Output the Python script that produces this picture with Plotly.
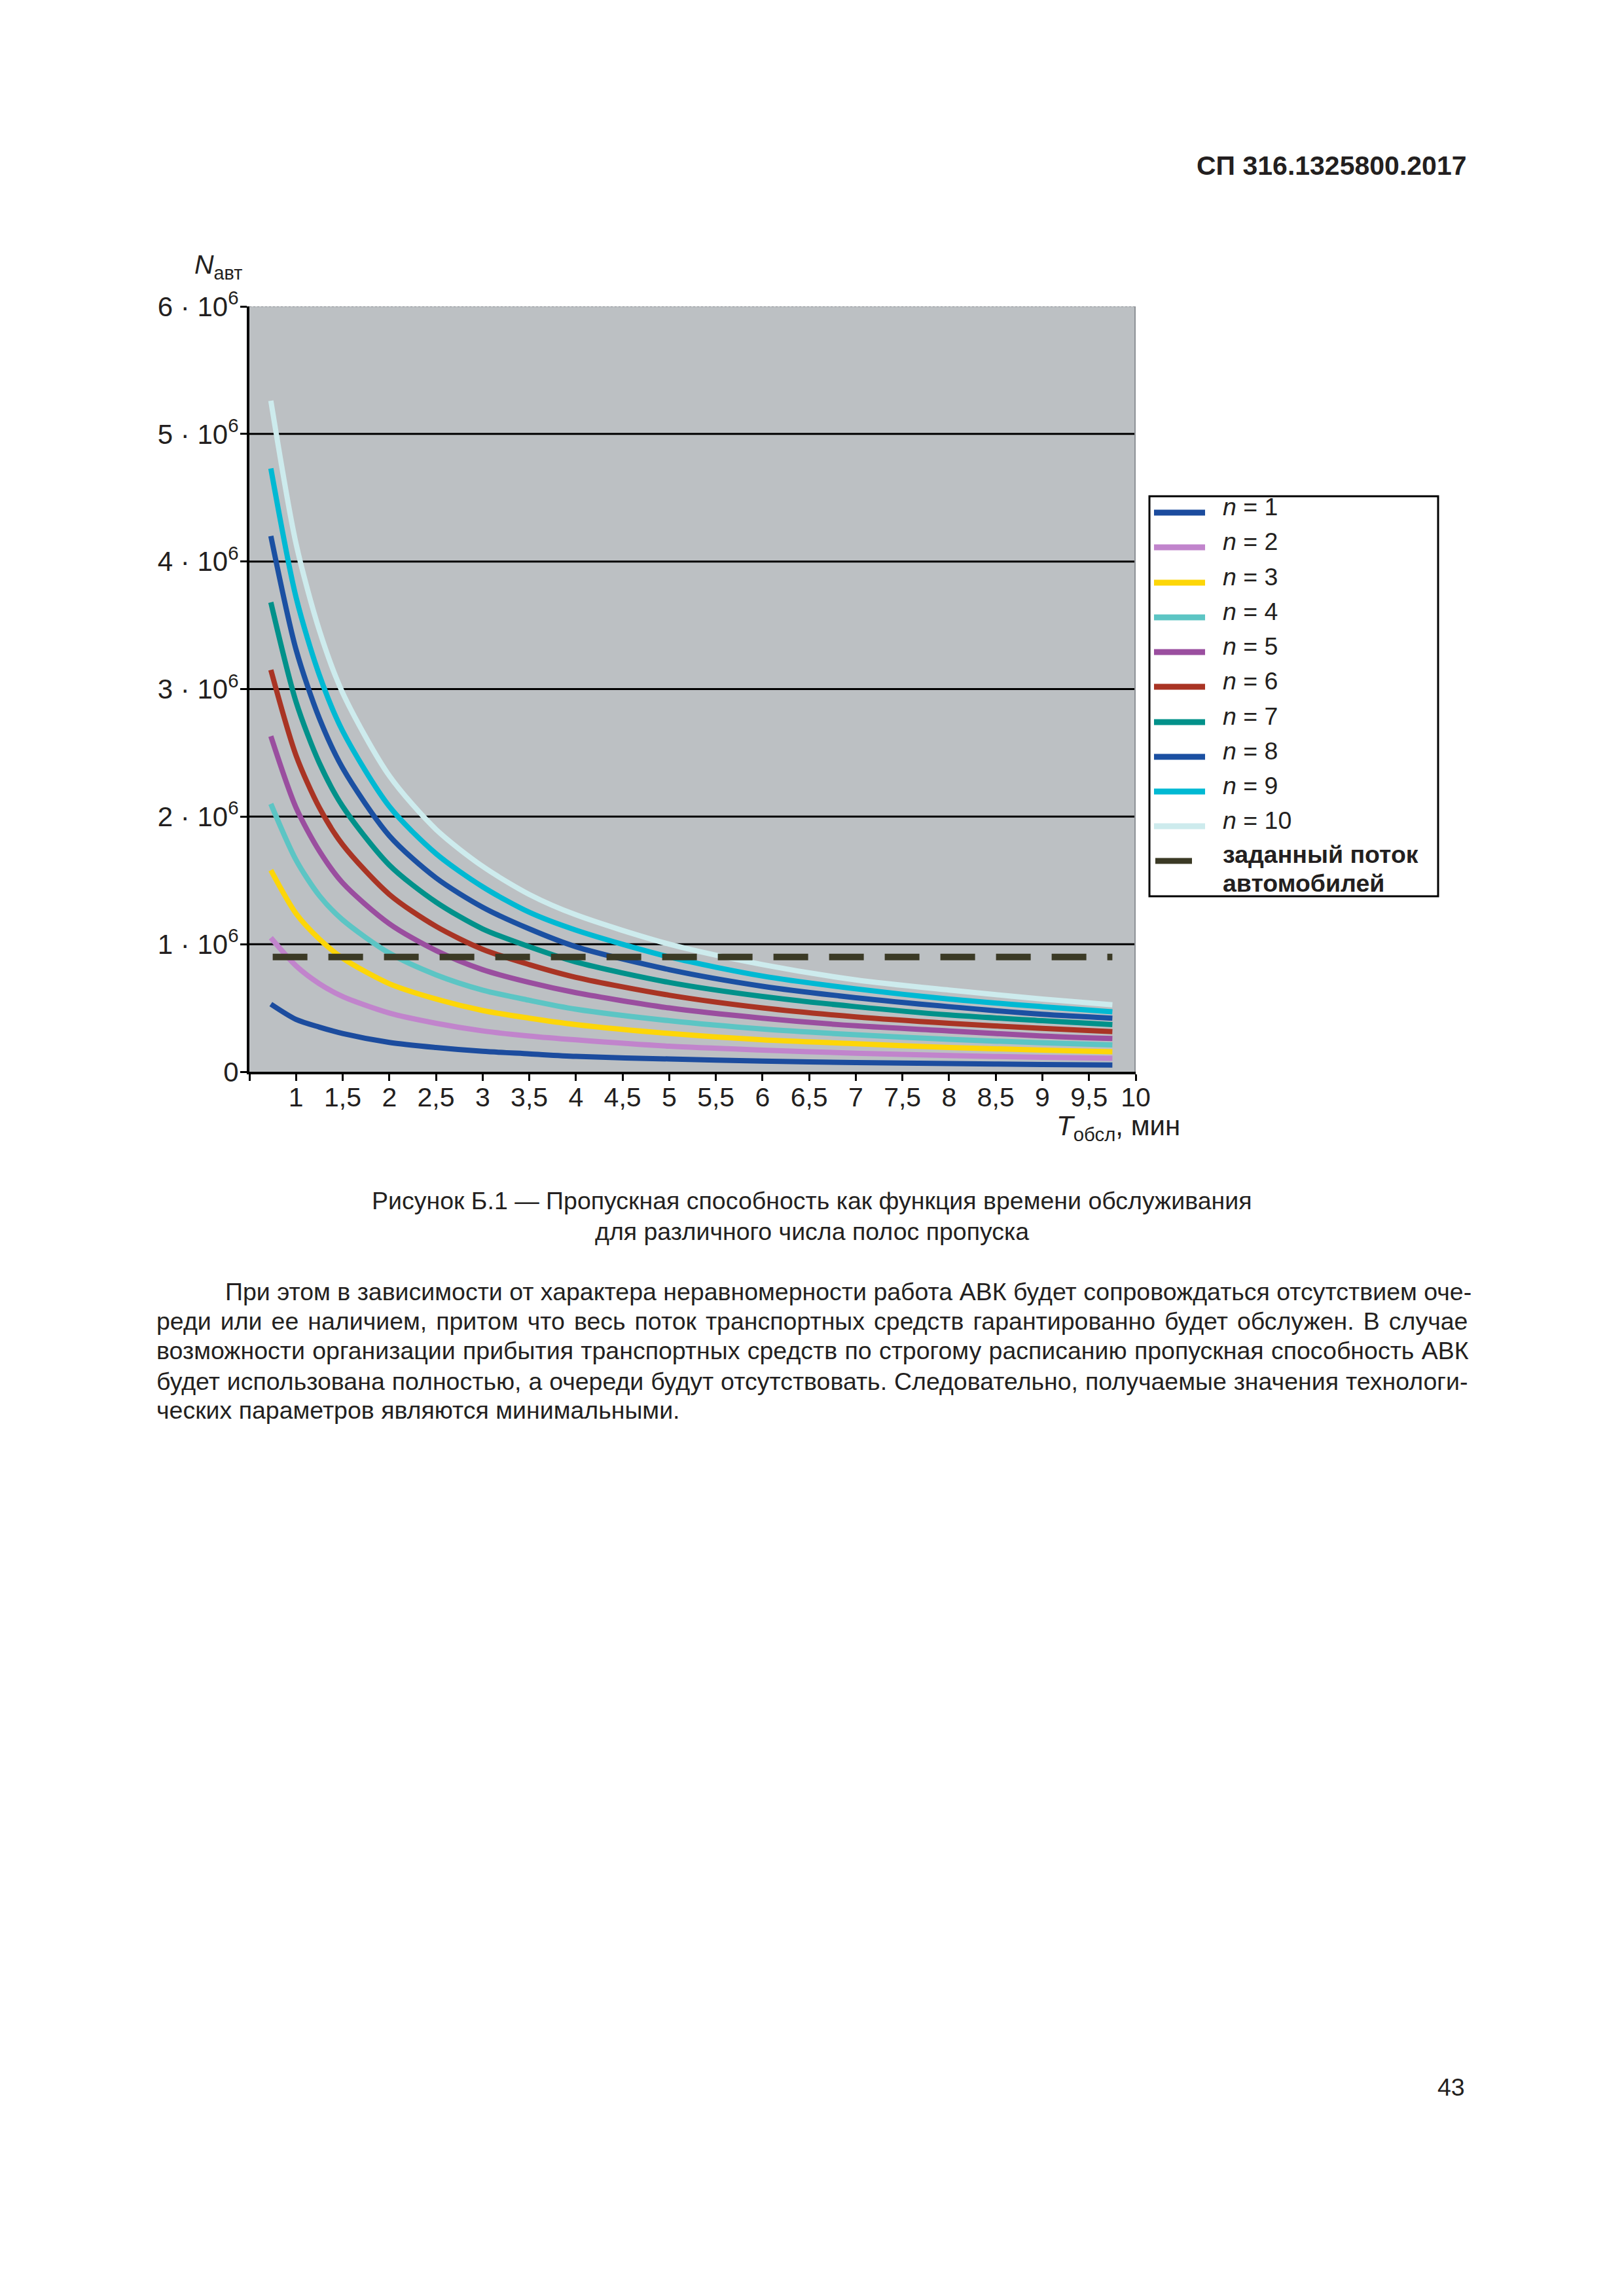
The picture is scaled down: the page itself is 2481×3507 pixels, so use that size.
import plotly.graph_objects as go

FONT = "Liberation Sans, Arial, sans-serif"
INK = "#231f20"

# время обслуживания, мин
T_OBSL = [0.73, 1.0, 1.25, 1.5, 2.0, 2.5, 3.0, 3.5, 4.0, 5.0, 6.0, 7.0, 8.0, 9.0, 9.75]

# пропускная способность, млн автомобилей (по числу полос n)
N_1 = [0.53, 0.41, 0.35, 0.30, 0.23, 0.19, 0.16, 0.14, 0.12, 0.10, 0.084, 0.072, 0.064, 0.057, 0.053]
N_2 = [1.05, 0.83, 0.69, 0.59, 0.46, 0.38, 0.32, 0.28, 0.25, 0.20, 0.17, 0.145, 0.127, 0.113, 0.105]
N_3 = [1.58, 1.24, 1.04, 0.89, 0.69, 0.57, 0.48, 0.42, 0.37, 0.30, 0.25, 0.22, 0.19, 0.17, 0.157]
N_4 = [2.10, 1.66, 1.38, 1.19, 0.93, 0.76, 0.64, 0.56, 0.49, 0.40, 0.335, 0.29, 0.254, 0.227, 0.21]
N_5 = [2.63, 2.07, 1.73, 1.48, 1.16, 0.95, 0.80, 0.70, 0.62, 0.50, 0.42, 0.36, 0.32, 0.28, 0.26]
N_6 = [3.15, 2.48, 2.07, 1.78, 1.39, 1.14, 0.96, 0.84, 0.74, 0.60, 0.50, 0.43, 0.38, 0.34, 0.315]
N_7 = [3.68, 2.90, 2.42, 2.08, 1.62, 1.33, 1.12, 0.98, 0.86, 0.70, 0.59, 0.51, 0.445, 0.40, 0.37]
N_8 = [4.20, 3.31, 2.77, 2.38, 1.85, 1.52, 1.29, 1.12, 0.98, 0.80, 0.67, 0.58, 0.51, 0.45, 0.42]
N_9 = [4.73, 3.72, 3.11, 2.67, 2.08, 1.71, 1.45, 1.25, 1.11, 0.90, 0.75, 0.65, 0.57, 0.51, 0.47]
N_10 = [5.26, 4.14, 3.46, 2.97, 2.32, 1.90, 1.61, 1.39, 1.23, 1.00, 0.84, 0.72, 0.64, 0.57, 0.525]

SERIES = [N_1, N_2, N_3, N_4, N_5, N_6, N_7, N_8, N_9, N_10]
LANES = [1, 2, 3, 4, 5, 6, 7, 8, 9, 10]
COLORS = ["#1c4c9e", "#c184cc", "#fdd608", "#5cc5c4", "#9a4e9f",
          "#a93424", "#01918a", "#1b50a2", "#00b9d3", "#cdebed"]

# заданный поток автомобилей
TARGET_X = [0.75, 9.75]
TARGET_N = [0.9, 0.9]
TARGET_COLOR = "#3b3a25"

X_TICKS = [0.5, 1, 1.5, 2, 2.5, 3, 3.5, 4, 4.5, 5, 5.5, 6, 6.5, 7, 7.5, 8, 8.5, 9, 9.5, 10]
X_LABELS = ["", "1", "1,5", "2", "2,5", "3", "3,5", "4", "4,5", "5", "5,5",
            "6", "6,5", "7", "7,5", "8", "8,5", "9", "9,5", "10"]
Y_TICKS = [0, 1, 2, 3, 4, 5, 6]
Y_LABELS = ["0"] + [f"{v} · 10<sup>6</sup>" for v in Y_TICKS[1:]]

PARAGRAPH = [
    "При этом в зависимости от характера неравномерности работа АВК будет "
    "сопровождаться отсутствием оче-",
    "реди или ее наличием, притом что весь поток транспортных средств "
    "гарантированно будет обслужен. В случае",
    "возможности организации прибытия транспортных средств по строгому "
    "расписанию пропускная способность АВК",
    "будет использована полностью, а очереди будут отсутствовать. "
    "Следовательно, получаемые значения технологи-",
    "ческих параметров являются минимальными.",
]
PARA_X = [342, 237, 237, 237, 237]
PARA_Y = [1973, 2018, 2063, 2110, 2154]
PARA_WORD_GAP = [0, 3.6, 0.9, 0.5, 0]

# page coordinates below are taken from the scanned page; the browser adds
# an 8 px body margin, so the figure itself is shifted by OFF
OFF = 8
W, H = 2481 - 2 * OFF, 3507 - 2 * OFF
PL, PR, PT, PB = 381, 1735, 468, 1637


def px(x):
    return (x - PL) / (PR - PL)


def py(y):
    return (PB - y) / (PB - PT)


def text(x, y, s, size=37.5, xanchor="left", bold=False):
    return dict(
        text=f"<b>{s}</b>" if bold else s,
        xref="paper", yref="paper", x=px(x), y=py(y),
        xanchor=xanchor, yanchor="middle", showarrow=False,
        font=dict(family=FONT, size=size, color=INK),
    )


fig = go.Figure()
for lanes, values, color in zip(LANES, SERIES, COLORS):
    fig.add_trace(go.Scatter(
        x=T_OBSL, y=values, mode="lines", name=f"n = {lanes}",
        line=dict(color=color, width=8, shape="spline", smoothing=0.8),
        showlegend=False,
    ))
fig.add_trace(go.Scatter(
    x=TARGET_X, y=TARGET_N, mode="lines", name="заданный поток автомобилей",
    line=dict(color=TARGET_COLOR, width=10, dash="53px,32px"),
    showlegend=False,
))

shapes = []
# gridlines
for v in Y_TICKS[1:-1]:
    shapes.append(dict(type="line", xref="paper", yref="y", x0=0, x1=1, y0=v, y1=v,
                       line=dict(color="black", width=3), layer="below"))
# top and right border of the plot
shapes.append(dict(type="line", xref="paper", yref="y", x0=0, x1=1, y0=6, y1=6,
                   line=dict(color="#8d9196", width=2, dash="dot"), layer="below"))
shapes.append(dict(type="line", xref="x", yref="paper", x0=10, x1=10, y0=0, y1=1,
                   line=dict(color="#8d9196", width=4), layer="below"))

# legend drawn by hand
LEG_Y = [783, 836, 890, 943, 996, 1049, 1103, 1156, 1209, 1262]
annotations = []
for lanes, color, y in zip(LANES, COLORS, LEG_Y):
    shapes.append(dict(type="line", xref="paper", yref="paper",
                       x0=px(1763), x1=px(1841), y0=py(y), y1=py(y),
                       line=dict(color=color, width=9)))
    annotations.append(text(1866, y - 9, f"<i>n</i> = {lanes}"))
shapes.append(dict(type="line", xref="paper", yref="paper",
                   x0=px(1765), x1=px(1821), y0=py(1315), y1=py(1315),
                   line=dict(color=TARGET_COLOR, width=9)))
annotations.append(text(1866, 1305, "заданный поток", bold=True))
annotations.append(text(1866, 1349, "автомобилей", bold=True))
shapes.append(dict(type="rect", xref="paper", yref="paper",
                   x0=px(1756), x1=px(2197), y0=py(758), y1=py(1369),
                   line=dict(color="black", width=3)))

# page texts
annotations += [
    text(2242, 253, "СП 316.1325800.2017", size=41, xanchor="right", bold=True),
    text(295, 407, "<i>N</i><sub>авт</sub>", size=41),
    text(1612, 1722, "<i>T</i><sub>обсл</sub>, мин", size=42),
    text(1240, 1834, "Рисунок Б.1 — Пропускная способность как функция времени обслуживания",
         xanchor="center"),
    text(1240, 1881, "для различного числа полос пропуска", xanchor="center"),
    text(2240, 3188, "43", xanchor="right"),
]
for line, x, y, gap in zip(PARAGRAPH, PARA_X, PARA_Y, PARA_WORD_GAP):
    body = f'<span style="word-spacing:{gap}px">{line}</span>' if gap else line
    annotations.append(text(x, y, body))

fig.update_layout(
    width=W, height=H, autosize=False,
    margin=dict(l=PL - OFF, r=W - (PR - OFF), t=PT - OFF, b=H - (PB - OFF), pad=0),
    paper_bgcolor="white", plot_bgcolor="#bcc0c3",
    font=dict(family=FONT, size=41, color=INK),
    showlegend=False,
    shapes=shapes,
    annotations=annotations,
    xaxis=dict(
        range=[0.5, 10], tickmode="array", tickvals=X_TICKS, ticktext=X_LABELS,
        ticks="outside", ticklen=10, tickwidth=3, tickcolor="black",
        showline=True, linecolor="black", linewidth=4, ticklabelstandoff=-10,
        showgrid=False, zeroline=False, tickfont=dict(size=41, color=INK),
    ),
    yaxis=dict(
        range=[0, 6], tickmode="array", tickvals=Y_TICKS, ticktext=Y_LABELS,
        ticks="outside", ticklen=10, tickwidth=3, tickcolor="black",
        showline=True, linecolor="black", linewidth=4, ticklabelstandoff=-6,
        showgrid=False, zeroline=False, tickfont=dict(size=42, color=INK),
    ),
)

fig.write_html("out.html")
